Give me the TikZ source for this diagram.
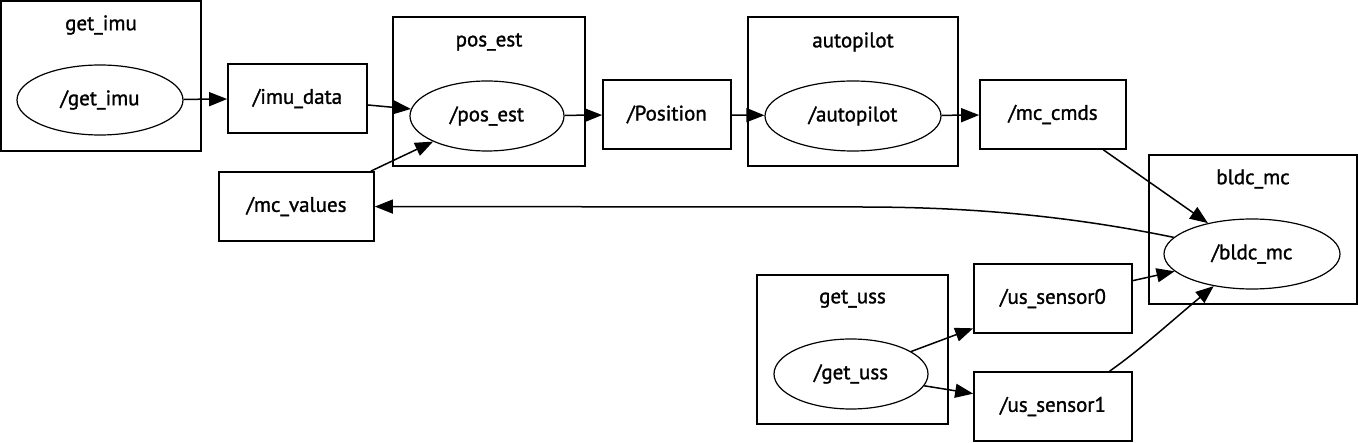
\documentclass[tikz,border=0pt]{standalone}
\usepackage{fontspec}
\setmainfont[FakeBold=1.3]{PT Sans}
\usetikzlibrary{arrows.meta,positioning,shapes.geometric}
\tikzset{
    cluster/.style={rectangle, draw, line width=1.7pt, inner sep=0pt},
    clusterLabel/.style={inner sep=0pt, font=\fontsize{21}{24}\selectfont},
    rosNode/.style={ellipse, draw, line width=1.2pt, inner sep=0pt,
                  minimum height=70pt, font=\fontsize{21}{24}\selectfont},
    topic/.style={rectangle, draw, line width=1.7pt, inner sep=0pt,
                  minimum height=69pt, font=\fontsize{21}{24}\selectfont},
    line/.style={draw, -{Triangle[length=18pt,width=14pt]}, line width=1.5pt}
}
\begin{document}
\begin{tikzpicture}[x=1pt, y=-1pt]
  \useasboundingbox (0,0) rectangle (1358,443);
  % clusters
  \node [cluster, minimum width=200pt, minimum height=150pt] (getimuC) at (101,76) {};
  \node [clusterLabel] (getimuL) at (101,25) {get\_imu};
  \node [cluster, minimum width=192pt, minimum height=149pt] (posestC) at (489,91.5) {};
  \node [clusterLabel] (posestL) at (489,42) {pos\_est};
  \node [cluster, minimum width=210pt, minimum height=149pt] (autopilotC) at (853,91.5) {};
  \node [clusterLabel] (autopilotL) at (853,42) {autopilot};
  \node [cluster, minimum width=208pt, minimum height=149pt] (bldcmcC) at (1253,229.5) {};
  \node [clusterLabel] (bldcmcL) at (1253,179) {bldc\_mc};
  \node [cluster, minimum width=191pt, minimum height=149pt] (getussC) at (852.5,349.5) {};
  \node [clusterLabel] (getussL) at (852.5,299) {get\_uss};

  % nodes
  \node [rosNode, minimum width=166pt] (getimu) at (100,100) {/get\_imu};
  \node [rosNode, minimum width=154pt] (posest) at (487,116) {/pos\_est};
  \node [rosNode, minimum width=176pt] (autopilot) at (853,116) {/autopilot};
  \node [rosNode, minimum width=176pt] (bldcmc) at (1252,254) {/bldc\_mc};
  \node [rosNode, minimum width=154pt] (getuss) at (851,374) {/get\_uss};

  % topics
  \node [topic, minimum width=139pt] (imudata) at (297.5,98.5) {/imu\_data};
  \node [topic, minimum width=128pt] (position) at (667,114.5) {/Position};
  \node [topic, minimum width=146pt] (mccmds) at (1053,114.5) {/mc\_cmds};
  \node [topic, minimum width=155pt] (mcvalues) at (296.5,206.5) {/mc\_values};
  \node [topic, minimum width=158pt] (ussensor0) at (1053,298.5) {/us\_sensor0};
  \node [topic, minimum width=158pt] (ussensor1) at (1053,406.5) {/us\_sensor1};

  \draw[line] (getimu) -- (imudata);
  \draw[line] (imudata) -- (posest);
  \draw[line] (mcvalues) -- (posest);
  \draw[line] (posest) -- (position);
  \draw[line] (position) -- (autopilot);
  \draw[line] (autopilot) -- (mccmds);
  \draw[line] (mccmds) -- (bldcmc);
  \draw[line] (bldcmc.168) .. controls (1060,214) and (960,207) .. (860,207) -- (mcvalues);
  \draw[line] (getuss) -- (ussensor0);
  \draw[line] (getuss) -- (ussensor1);
  \draw[line] (ussensor0) -- (bldcmc);
  \draw[line] (ussensor1.32) .. controls (1140,350) and (1175,318) .. (bldcmc.220);
\end{tikzpicture}
\end{document}
